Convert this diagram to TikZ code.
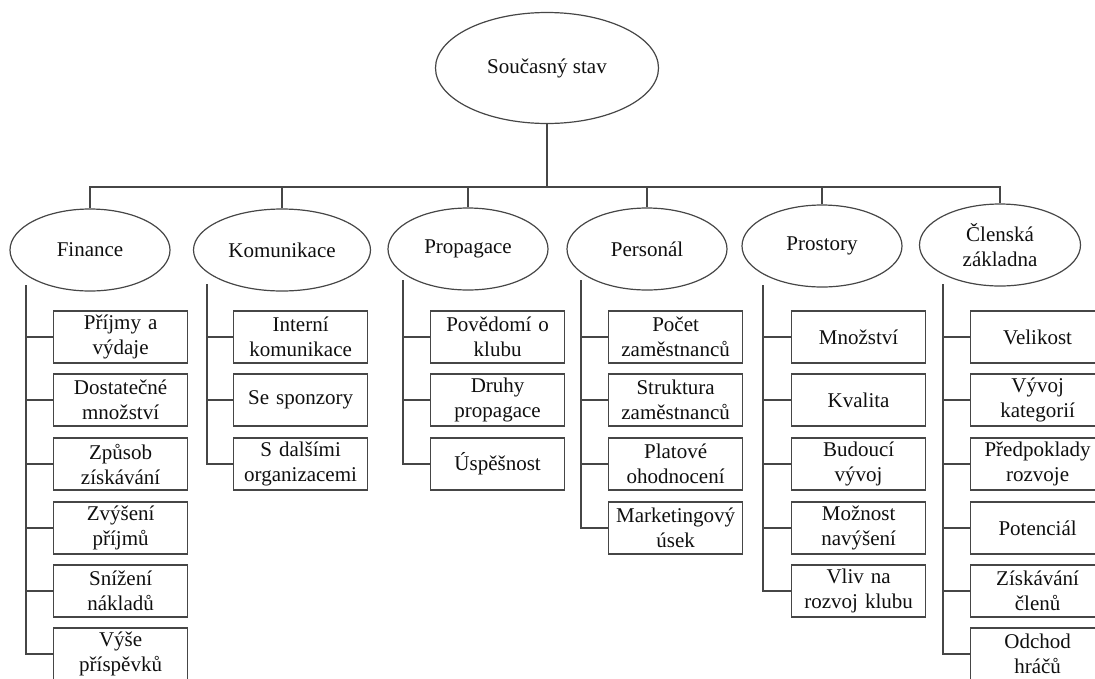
\documentclass[tikz,border=0pt]{standalone}
\usepackage{fontspec}
\setmainfont{Liberation Serif}
\usetikzlibrary{shapes.geometric}
\definecolor{ln}{RGB}{70,70,70}
\definecolor{tx}{RGB}{15,15,15}
\begin{document}
\begin{tikzpicture}[x=1pt,y=-1pt,
  every node/.style={font=\fontsize{21}{25}\selectfont, text=tx},
  oval/.style={draw=ln, line width=1.2pt, ellipse, inner sep=0pt, minimum height=82pt, minimum width=160pt, align=center},
  leaf/.style={draw=ln, line width=1.2pt, rectangle, inner sep=0pt, minimum width=134pt, minimum height=52pt, text width=134pt, align=center, anchor=west},
  conn/.style={draw=ln, line width=1.2pt}]
\useasboundingbox (0,0) rectangle (1095,678);
% root
\node[oval, minimum width=223pt, minimum height=111pt] (root) at (547,68) {Současný stav};
\coordinate (bar) at (547,187);
% level 2
\node[oval] (fin) at (90,250) {Finance};
\node[oval, minimum width=177pt] (kom) at (282,250) {Komunikace};
\node[oval] (pro) at (468,249) {Propagace};
\node[oval] (per) at (647,249) {Personál};
\node[oval] (prs) at (822,246) {Prostory};
\node[oval, minimum width=161pt] (cle) at (1000,245) {Členská\\základna};
% bar connectors
\draw[conn] (root.south) -- (bar);
\draw[conn] (fin.north) |- (bar) -| (cle.north);
\draw[conn] (kom.north) -- (kom.north |- bar);
\draw[conn] (pro.north) -- (pro.north |- bar);
\draw[conn] (per.north) -- (per.north |- bar);
\draw[conn] (prs.north) -- (prs.north |- bar);
% trunk start coordinates
\coordinate (finT) at (26,285);
\coordinate (komT) at (207,284);
\coordinate (proT) at (403,280);
\coordinate (perT) at (581,280);
\coordinate (prsT) at (763,285);
\coordinate (cleT) at (943,284);
% Finance
\node[leaf] (f1) at (53,337) {Příjmy a\\výdaje};
\node[leaf] (f2) at (53,400) {Dostatečné\\množství};
\node[leaf] (f3) at (53,464) {Způsob\\získávání};
\node[leaf] (f4) at (53,528) {Zvýšení\\příjmů};
\node[leaf] (f5) at (53,591) {Snížení\\nákladů};
\node[leaf] (f6) at (53,654) {Výše\\příspěvků};
% Komunikace
\node[leaf] (k1) at (233,337) {Interní\\komunikace};
\node[leaf] (k2) at (233,400) {Se sponzory};
\node[leaf] (k3) at (233,464) {S dalšími\\organizacemi};
% Propagace
\node[leaf] (p1) at (430,337) {Povědomí o\\klubu};
\node[leaf] (p2) at (430,400) {Druhy\\propagace};
\node[leaf] (p3) at (430,464) {Úspěšnost};
% Personal
\node[leaf] (e1) at (608,337) {Počet\\zaměstnanců};
\node[leaf] (e2) at (608,400) {Struktura\\zaměstnanců};
\node[leaf] (e3) at (608,464) {Platové\\ohodnocení};
\node[leaf] (e4) at (608,528) {Marketingový\\úsek};
% Prostory
\node[leaf] (s1) at (791,337) {Množství};
\node[leaf] (s2) at (791,400) {Kvalita};
\node[leaf] (s3) at (791,464) {Budoucí\\vývoj};
\node[leaf] (s4) at (791,528) {Možnost\\navýšení};
\node[leaf] (s5) at (791,591) {Vliv na\\rozvoj klubu};
% Clenska
\node[leaf] (c1) at (970,337) {Velikost};
\node[leaf] (c2) at (970,400) {Vývoj\\kategorií};
\node[leaf] (c3) at (970,464) {Předpoklady\\rozvoje};
\node[leaf] (c4) at (970,528) {Potenciál};
\node[leaf] (c5) at (970,591) {Získávání\\členů};
\node[leaf] (c6) at (970,654) {Odchod\\hráčů};
% branch connectors
\foreach \t/\l in {finT/f1,finT/f2,finT/f3,finT/f4,finT/f5,finT/f6,
  komT/k1,komT/k2,komT/k3,
  proT/p1,proT/p2,proT/p3,
  perT/e1,perT/e2,perT/e3,perT/e4,
  prsT/s1,prsT/s2,prsT/s3,prsT/s4,prsT/s5,
  cleT/c1,cleT/c2,cleT/c3,cleT/c4,cleT/c5,cleT/c6}
  \draw[conn] (\t) |- (\l.west);
\end{tikzpicture}
\end{document}
